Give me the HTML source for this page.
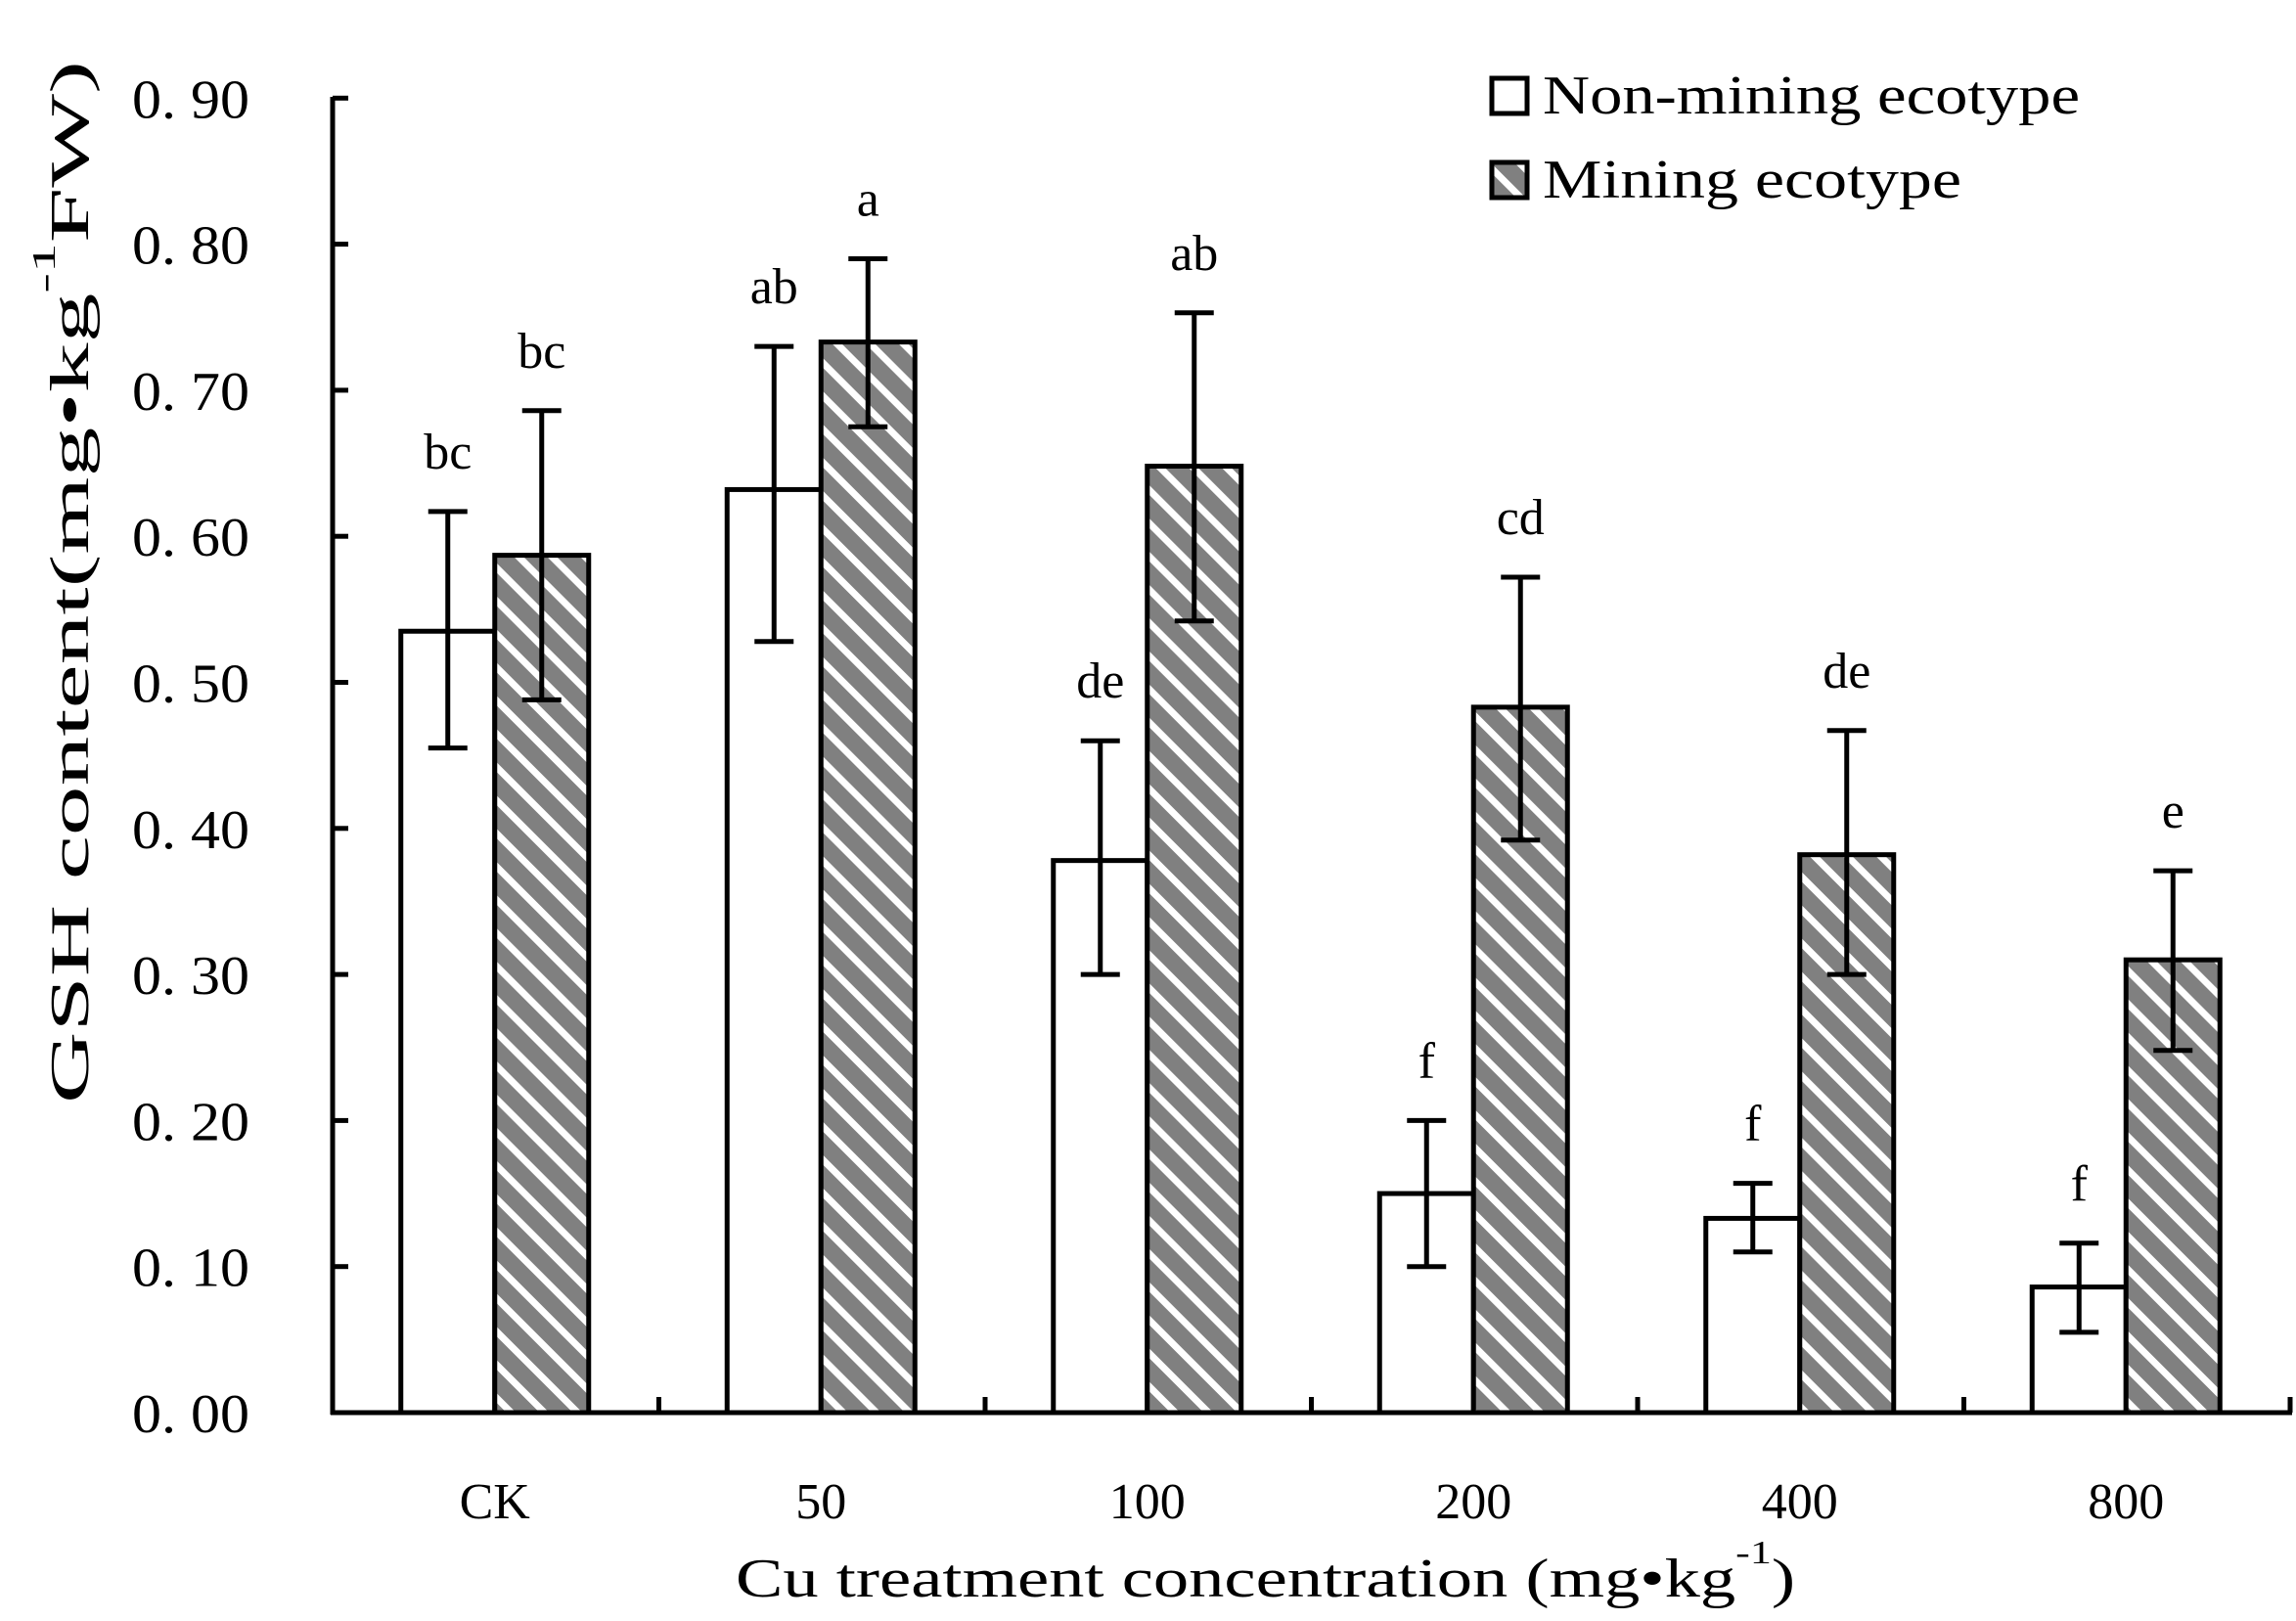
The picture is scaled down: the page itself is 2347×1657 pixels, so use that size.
<!DOCTYPE html>
<html><head><meta charset="utf-8"><style>html,body{margin:0;padding:0;background:#fff}svg{display:block}</style></head>
<body>
<svg width="2347" height="1657" viewBox="0 0 2347 1657" xmlns="http://www.w3.org/2000/svg" font-family="'Liberation Serif','Noto Serif CJK SC',serif">
<defs>
<pattern id="h" patternUnits="userSpaceOnUse" width="24" height="24" patternTransform="rotate(45)">
<rect width="24" height="24" fill="#808080"/>
<rect width="24" height="7" fill="#fff"/>
</pattern>
</defs>
<rect width="2347" height="1657" fill="#fff"/>
<g id="bars" stroke="#000" stroke-width="5"></g>
<g stroke="#000" stroke-width="5" fill="none">
<line x1="340" y1="99" x2="340" y2="1446"/>
<line x1="338" y1="1444" x2="2343" y2="1444"/>
</g>
<g id="yt" stroke="#000" stroke-width="5"></g>
<g id="txt" font-size="56" fill="#000"></g>
<rect x="1525" y="80" width="36" height="36" fill="#fff" stroke="#000" stroke-width="5"/>
<rect x="1525" y="166" width="36" height="36" fill="url(#h)" stroke="#000" stroke-width="5"/>
<text x="1577" y="116" font-size="56" textLength="549" lengthAdjust="spacingAndGlyphs">Non-mining ecotype</text>
<text x="1577" y="202" font-size="56" textLength="428" lengthAdjust="spacingAndGlyphs">Mining ecotype</text>
<text x="752" y="1632" font-size="56" textLength="1083" lengthAdjust="spacingAndGlyphs">Cu treatment concentration (mg•kg<tspan font-size="34" dy="-34">-1</tspan><tspan dy="34">)</tspan></text>
<g transform="translate(90,1128) rotate(-90)">
<text x="0" y="0" font-size="56" textLength="1066" lengthAdjust="spacingAndGlyphs">GSH content(mg•kg<tspan font-size="34" dy="-34">-1</tspan><tspan dy="34">FW)</tspan></text>
</g>
<script>
(function(){
var NS="http://www.w3.org/2000/svg";
function el(p,t,a,txt){var e=document.createElementNS(NS,t);for(var k in a)e.setAttribute(k,a[k]);if(txt!=null)e.textContent=txt;p.appendChild(e);return e;}
function Y(v){return 1444-v*1493;}
var yt=document.getElementById('yt'),tx=document.getElementById('txt'),b=document.getElementById('bars');
for(var i=0;i<=9;i++){var y=Y(i/10);el(yt,'line',{x1:340,y1:y,x2:356,y2:y});
el(tx,'text',{x:255,y:y+20,'text-anchor':'end',textLength:120,lengthAdjust:'spacingAndGlyphs'},'0. '+i+'0');}
var xs0=340,cw=333.5;
for(var i=1;i<=6;i++){var x=xs0+cw*i;el(yt,'line',{x1:x,y1:1444,x2:x,y2:1428});}
var cats=['CK','50','100','200','400','800'];
var W=[[0.535,0.617,0.455,'bc'],[0.632,0.73,0.528,'ab'],[0.378,0.46,0.30,'de'],[0.15,0.20,0.10,'f'],[0.133,0.157,0.11,'f'],[0.086,0.116,0.055,'f']];
var H=[[0.587,0.686,0.488,'bc'],[0.733,0.79,0.675,'a'],[0.648,0.753,0.542,'ab'],[0.483,0.572,0.392,'cd'],[0.382,0.467,0.30,'de'],[0.31,0.371,0.248,'e']];
for(var i=0;i<6;i++){
 var c=xs0+cw*(i+0.5)-1;
 el(b,'rect',{x:c-96,y:Y(W[i][0]),width:96,height:1444-Y(W[i][0]),fill:'#fff'});
 el(b,'rect',{x:c,y:Y(H[i][0]),width:96,height:1444-Y(H[i][0]),fill:'url(#h)'});
 [[c-48,W[i]],[c+48,H[i]]].forEach(function(p){var x=p[0],d=p[1];
  el(b,'line',{x1:x,y1:Y(d[1]),x2:x,y2:Y(d[2])});
  el(b,'line',{x1:x-20,y1:Y(d[1]),x2:x+20,y2:Y(d[1])});
  el(b,'line',{x1:x-20,y1:Y(d[2]),x2:x+20,y2:Y(d[2])});
  el(tx,'text',{x:x,y:Y(d[1])-44,'text-anchor':'middle','font-size':52},d[3]);
 });
 el(tx,'text',{x:c,y:1552,'text-anchor':'middle','font-size':52},cats[i]);
}
})();
</script>
</svg>
</body></html>
